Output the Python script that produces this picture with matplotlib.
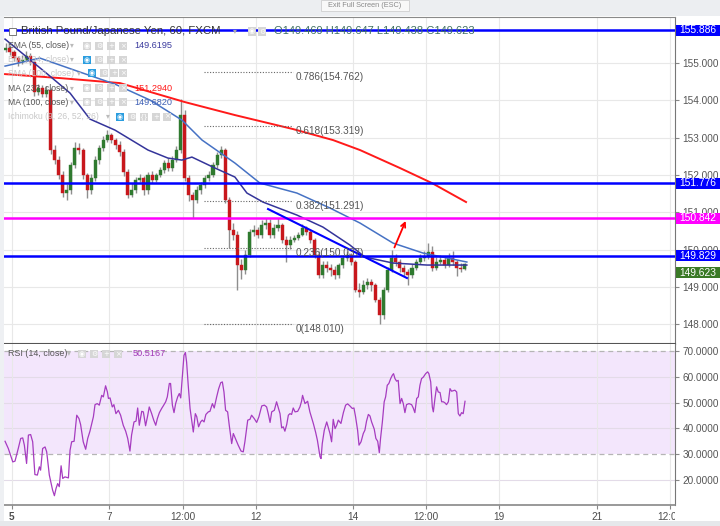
import numpy as np
import matplotlib
matplotlib.use('Agg')
import matplotlib.pyplot as plt
from matplotlib.patches import Rectangle
from matplotlib.ticker import FormatStrFormatter
from matplotlib.transforms import blended_transform_factory, Bbox, TransformedBbox

plt.rcParams['font.family'] = ['Liberation Sans', 'DejaVu Sans']

W, H = 720, 526

# ---- GBP/JPY 2-hour candles ----
opens = [155.350, 155.402, 155.295, 155.134, 155.027, 155.080, 155.188, 155.027, 154.223, 154.330,
         154.169, 154.276, 152.668, 152.399, 151.997, 151.515, 151.595, 152.265, 152.721, 152.668,
         151.997, 151.595, 151.917, 152.399, 152.721, 152.936, 153.070, 152.936, 152.802, 152.614,
         152.078, 151.461, 151.595, 151.863, 151.917, 151.595, 151.997, 151.863, 151.997, 152.131,
         152.319, 152.185, 152.399, 152.668, 153.606, 151.917, 151.461, 151.327, 151.595, 151.729,
         151.917, 151.997, 152.265, 152.533, 152.668, 151.327, 150.523, 150.389, 149.584, 149.450,
         149.852, 150.469, 150.523, 150.389, 150.657, 150.700, 150.389, 150.576, 150.657, 150.255,
         150.121, 150.255, 150.308, 150.389, 150.576, 150.469, 150.255, 149.852, 149.316, 149.584,
         149.504, 149.450, 149.316, 149.584, 149.772, 149.852, 149.665, 148.914, 148.860, 149.048,
         149.128, 149.048, 148.646, 148.244, 148.914, 149.450, 149.772, 149.665, 149.504, 149.397,
         149.316, 149.504, 149.665, 149.772, 149.799, 149.933, 149.504, 149.665, 149.718, 149.584,
         149.772, 149.665, 149.504, 149.469]
closes = [155.402, 155.295, 155.134, 155.027, 155.080, 155.188, 155.027, 154.223, 154.330, 154.169,
          154.276, 152.668, 152.399, 151.997, 151.515, 151.595, 152.265, 152.721, 152.668, 151.997,
          151.595, 151.917, 152.399, 152.721, 152.936, 153.070, 152.936, 152.802, 152.614, 152.078,
          151.461, 151.595, 151.863, 151.917, 151.595, 151.997, 151.863, 151.997, 152.131, 152.319,
          152.185, 152.399, 152.668, 153.606, 151.917, 151.461, 151.327, 151.595, 151.729, 151.917,
          151.997, 152.265, 152.533, 152.668, 151.327, 150.523, 150.389, 149.584, 149.450, 149.852,
          150.469, 150.523, 150.389, 150.657, 150.700, 150.389, 150.576, 150.657, 150.255, 150.121,
          150.255, 150.308, 150.389, 150.576, 150.469, 150.255, 149.852, 149.316, 149.584, 149.504,
          149.450, 149.316, 149.584, 149.772, 149.852, 149.665, 148.914, 148.860, 149.048, 149.128,
          149.048, 148.646, 148.244, 148.914, 149.450, 149.772, 149.665, 149.504, 149.397, 149.316,
          149.504, 149.665, 149.772, 149.799, 149.933, 149.504, 149.665, 149.718, 149.584, 149.772,
          149.665, 149.504, 149.469, 149.623]
highs = [155.55, 155.48, 155.36, 155.20, 155.22, 155.33, 155.26, 155.08, 154.45, 154.40,
         154.38, 154.32, 152.80, 152.50, 152.10, 151.75, 152.35, 152.88, 152.85, 152.72,
         152.05, 152.02, 152.50, 152.80, 153.05, 153.20, 153.12, 153.00, 152.90, 152.70,
         152.15, 151.78, 151.95, 152.02, 151.98, 152.08, 152.10, 152.05, 152.22, 152.40,
         152.45, 152.50, 152.78, 154.03, 153.75, 152.00, 151.55, 151.70, 151.82, 152.00,
         152.10, 152.35, 152.62, 152.78, 152.72, 151.40, 150.70, 150.50, 149.75, 150.00,
         150.55, 150.65, 150.60, 150.78, 150.85, 150.82, 150.68, 150.85, 150.70, 150.35,
         150.35, 150.40, 150.48, 150.68, 150.62, 150.52, 150.30, 149.95, 149.68, 149.68,
         149.62, 149.55, 149.65, 149.85, 149.95, 149.92, 149.72, 149.10, 149.18, 149.25,
         149.22, 149.10, 148.72, 149.00, 149.52, 149.99, 149.88, 149.75, 149.58, 149.48,
         149.60, 149.75, 149.88, 149.95, 150.17, 150.10, 149.80, 149.85, 149.80, 149.90,
         149.95, 149.72, 149.65, 149.647]
lows = [155.30, 155.22, 155.05, 154.92, 154.98, 155.02, 154.95, 154.12, 154.15, 154.08,
        154.10, 152.55, 152.30, 151.90, 151.40, 151.32, 151.50, 152.20, 152.55, 151.90,
        151.38, 151.50, 151.85, 152.30, 152.65, 152.88, 152.85, 152.70, 152.52, 151.98,
        151.38, 151.40, 151.52, 151.80, 151.45, 151.50, 151.78, 151.80, 151.95, 152.05,
        152.10, 152.10, 152.35, 152.60, 151.85, 151.30, 150.85, 151.25, 151.50, 151.65,
        151.85, 151.95, 152.20, 152.45, 151.25, 150.04, 150.25, 148.91, 149.20, 149.35,
        149.80, 150.35, 150.30, 150.30, 150.55, 150.30, 150.32, 150.50, 150.18, 149.66,
        150.02, 150.20, 150.25, 150.35, 150.40, 150.18, 149.78, 149.25, 149.25, 149.40,
        149.30, 149.20, 149.25, 149.50, 149.70, 149.58, 148.85, 148.72, 148.80, 148.95,
        148.90, 148.58, 148.01, 148.15, 148.85, 149.40, 149.55, 149.40, 149.30, 149.05,
        149.25, 149.45, 149.60, 149.70, 149.75, 149.42, 149.45, 149.60, 149.50, 149.52,
        149.58, 149.30, 149.40, 149.438]

# moving averages (hours since the first bar, price)
ma233_hours = [-1.4, 25.7, 55.2, 87.2, 111.8, 140.4, 160.1, 173.4, 193.1, 208.8, 225.6]
ma233_vals = [154.705, 154.598, 154.464, 153.954, 153.606, 153.231, 152.936, 152.668, 152.185, 151.783, 151.274]
ma100_hours = [-1.4, 15.8, 35.5, 52.7, 70.0, 85.7, 95.6, 111.8, 124.1, 142.3, 158.6, 173.4, 189.6, 204.4, 226.0]
ma100_vals = [154.920, 155.134, 154.759, 154.437, 154.008, 153.472, 152.936, 152.319, 151.783, 151.515,
              151.113, 150.710, 150.174, 149.906, 149.665]
ema55_hours = [-1.4, 20.7, 30.6, 40.4, 52.7, 69.0, 78.8, 85.7, 90.6, 102.0, 111.8, 117.7, 125.6, 142.3,
               155.1, 168.4, 175.8, 189.6, 206.4, 226.0]
ema55_vals = [155.643, 154.651, 154.196, 153.499, 153.204, 152.668, 152.453, 152.399, 152.480, 152.185,
              151.944, 151.515, 151.273, 150.925, 150.603, 150.121, 149.799, 149.638, 149.584, 149.584]

# horizontal levels and their axis labels
level_prices = [155.886, 151.776, 150.842, 149.829]
level_colors = ['#0000ff', '#0000ff', '#ff00ff', '#0000ff']
last_price = 149.623

# fibonacci retracement
fib_ratios = ['0.786', '0.618', '0.382', '0.236', '0']
fib_prices = [154.762, 153.319, 151.291, 150.037, 148.010]
fib_span = [96.5, 140.4]

trend_hours = [128.1, 196.5]
trend_prices = [151.086, 149.236]
arrow_hours = [189.8, 196.4]
arrow_prices = [149.987, 150.836]

# RSI (14) turning points
rsi_hours = [-1.4, 0.2, 2.4, 3.5, 5.1, 6.3, 7.3, 8.1, 9.2, 10.1, 11.2, 12.2, 13.3, 14.5, 15.5, 16.1,
             17.1, 18.3, 19.1, 20.4, 22.0, 22.9, 23.7, 24.5, 25.3, 26.2, 27.0, 28.1, 29.8, 30.6, 31.4,
             32.6, 33.9, 35.0, 35.8, 37.1, 38.3, 39.3, 40.4, 41.3, 42.1, 42.9, 44.0, 45.0, 46.2, 47.0,
             48.1, 49.0, 49.5, 50.3, 51.4, 52.2, 53.2, 54.4, 55.5, 56.8, 58.0, 59.0, 60.1, 60.9, 62.1,
             63.1, 63.9, 64.7, 65.9, 66.7, 67.8, 68.8, 69.6, 70.8, 71.8, 72.8, 73.6, 74.6, 75.7, 76.5,
             77.7, 78.5, 79.5, 80.1, 81.0, 81.8, 82.6, 83.6, 84.4, 85.1, 86.1, 86.7, 87.4, 88.0, 88.8,
             89.7, 90.5, 91.3, 92.3, 93.0, 93.9, 94.9, 95.7, 96.6, 97.5, 98.7, 99.5, 100.7, 101.6, 102.8,
             103.8, 104.8, 105.6, 106.4, 107.2, 108.2, 109.0, 110.2, 111.0, 113.4, 114.8, 115.9, 116.7,
             118.1, 119.2, 120.0, 121.3, 122.5, 123.6, 125.0, 126.3, 127.4, 128.2, 129.1, 129.9, 131.2,
             132.3, 133.2, 134.0, 134.8, 135.6, 136.4, 137.3, 138.1, 138.9, 139.7, 140.5, 141.4, 142.7,
             143.8, 144.6, 145.1, 146.3, 147.6, 148.7, 150.4, 151.5, 152.4, 153.7, 154.2, 154.8, 155.8,
             157.0, 157.8, 158.6, 159.4, 160.2, 161.1, 161.9, 162.7, 164.0, 165.2, 166.3, 167.3, 168.4,
             169.6, 170.4, 171.2, 172.2, 172.9, 173.9, 175.0, 175.8, 176.6, 177.5, 178.3, 179.1, 180.4,
             181.2, 182.1, 182.9, 183.5, 184.4, 185.3, 186.0, 186.8, 187.6, 188.5, 189.3, 189.9, 190.6,
             191.4, 192.2, 193.1, 193.9, 194.7, 195.5, 196.3, 197.5, 198.8, 199.6, 200.4, 201.3, 202.1,
             202.9, 203.7, 204.6, 205.7, 206.7, 207.3, 208.2, 209.0, 209.5, 210.3, 211.1, 211.9, 212.8,
             213.6, 214.4, 215.2, 216.0, 216.9, 217.7, 218.5, 220.1, 221.0, 221.8, 222.6, 223.4, 224.2,
             225.1]
rsi_values = [35.0, 32.2, 27.0, 27.3, 32.2, 36.1, 36.3, 33.5, 26.4, 37.4, 37.6, 34.8, 22.1, 21.9, 25.1, 23.8,
              32.2, 32.8, 30.9, 21.9, 16.1, 13.9, 16.7, 18.6, 17.4, 25.5, 20.6, 21.2, 20.8, 31.5, 34.8,
              35.0, 45.1, 43.8, 41.5, 34.8, 31.9, 36.1, 38.9, 41.9, 44.5, 49.2, 49.6, 49.0, 52.8, 52.2,
              56.5, 54.1, 51.6, 51.8, 48.3, 49.2, 45.7, 47.0, 45.1, 41.2, 38.9, 36.1, 31.2, 37.4, 42.5,
              42.8, 47.9, 41.2, 46.6, 46.4, 41.0, 44.8, 48.3, 45.7, 43.2, 41.2, 43.8, 46.1, 47.7, 48.7,
              50.3, 52.2, 57.4, 57.4, 49.0, 46.1, 49.6, 52.2, 53.5, 51.8, 61.9, 68.3, 69.4, 65.7, 56.7,
              47.7, 43.2, 38.6, 45.7, 44.5, 40.6, 42.5, 43.2, 42.5, 45.4, 46.4, 46.6, 49.6, 47.9, 52.2,
              55.4, 57.7, 58.0, 54.1, 47.0, 46.4, 41.2, 34.1, 38.0, 33.5, 31.2, 30.9, 34.8,
              43.2, 43.5, 45.1, 43.8, 42.3, 44.5, 48.7, 49.0, 48.3, 45.7, 42.3, 46.4, 47.0,
              50.3, 47.9, 45.7, 40.2, 40.6, 38.9, 41.5, 45.1, 45.7, 45.4, 47.9, 46.4, 46.6,
              48.3, 50.5, 52.8, 49.6, 50.5, 46.4, 41.9, 38.6, 35.4, 29.0, 28.3, 34.1, 39.3,
              42.5, 40.2, 38.0, 34.8, 43.5, 39.9, 41.2, 43.2, 41.9, 46.1, 49.0, 49.5, 48.7,
              47.7, 47.9, 44.5, 39.3, 33.5, 34.8, 38.0, 39.3, 42.8, 45.4, 44.8, 42.5, 39.7,
              36.1, 35.0, 30.6, 36.1, 42.5, 50.3, 52.2, 56.7, 57.4, 59.3, 60.6, 61.2, 59.3,
              58.3, 58.6, 49.6, 51.6, 49.6, 46.1, 49.2, 49.6, 49.2, 47.9, 46.1, 51.6, 52.2,
              56.7, 59.3, 59.9, 61.2, 61.9, 61.2, 58.0, 48.3, 46.4, 51.6, 56.1, 54.1, 53.9,
              50.3, 50.3, 49.9, 49.2, 50.3, 55.4, 54.4, 54.8, 54.1, 45.7, 44.8, 46.1, 45.7,
              50.5]

xtick_hours = [2, 50, 86, 122, 170, 206, 242, 290, 326]
xtick_labels = ['5', '7', '12:00', '12', '14', '12:00', '19', '21', '12:00']


def fx(px):
    return px / W


def fy(py):
    return 1 - py / H


fig = plt.figure(figsize=(W / 100, H / 100), dpi=100, facecolor='white')
ax = fig.add_axes([fx(4), fy(343.5), (675 - 4) / W, (343.5 - 16.5) / H])
ax_rsi = fig.add_axes([fx(4), fy(505), (675 - 4) / W, (505 - 344) / H], sharex=ax)

# ---- price panel ----
o = np.array(opens)
c = np.array(closes)
hi = np.array(highs)
lo = np.array(lows)
t = np.arange(len(c)) * 2 - 1
up = c >= o
green, red = '#2f7a2f', '#c8171c'
ax.vlines(t, lo, hi, color='#8e8e8e', lw=1.0, zorder=3)
ax.bar(t[up], (c - o)[up], bottom=o[up], width=1.5, color=green, edgecolor=green, lw=0.3, zorder=3.2)
ax.bar(t[~up], (o - c)[~up], bottom=c[~up], width=1.5, color=red, edgecolor=red, lw=0.3, zorder=3.2)

ax.plot(ma233_hours, ma233_vals, color='#ff1a1a', lw=1.4, zorder=3.5)
ax.plot(ma100_hours, ma100_vals, color='#4672c4', lw=1.1, zorder=3.5)
ax.plot(ema55_hours, ema55_vals, color='#34349a', lw=1.1, zorder=3.5)

for p, col in zip(level_prices, level_colors):
    ax.axhline(p, color=col, lw=1.8, zorder=4)

for r, p in zip(fib_ratios, fib_prices):
    ax.plot(fib_span, [p, p], color='#666666', lw=0.8, ls=(0, (1, 1.5)), zorder=4)
    ax.annotate(f'{r}({p:.3f})', xy=(fib_span[1], p), xytext=(2.2, -3.6), textcoords='offset points',
                ha='left', va='center', fontsize=7.2, color='#555555', zorder=5)

ax.plot(trend_hours, trend_prices, color='#0000ff', lw=1.5, zorder=4)
ax.annotate('', xy=(arrow_hours[1], arrow_prices[1]), xytext=(arrow_hours[0], arrow_prices[0]),
            arrowprops=dict(arrowstyle='->', color='#ff0000', lw=1.3, mutation_scale=8), zorder=5)

y0, y1 = 147.48, 156.25
ax.set_ylim(y0, y1)
ax.set_xlim(-1.92, 328.5)
ax.yaxis.tick_right()
ax.set_yticks(np.arange(148, 156))
ax.yaxis.set_major_formatter(FormatStrFormatter('%.3f'))
ax.tick_params(axis='y', length=3, pad=2.5, labelsize=7.2, labelcolor='#555555', color='#888888')
ax.tick_params(axis='x', bottom=False, labelbottom=False)
ax.grid(True, color='#e8e8e8', lw=0.8)
ax.set_axisbelow(True)
ax.spines['left'].set_visible(False)
ax.spines['top'].set_color('#8a8a8a')
ax.spines['right'].set_color('#777777')
ax.spines['bottom'].set_color('#555555')
ax.spines['bottom'].set_linewidth(1.5)

# ---- RSI panel ----
ax_rsi.axhspan(30, 70, color='#f3e6fc', lw=0, zorder=0)
for v in [20, 40, 50, 60]:
    ax_rsi.axhline(v, color='#e3dbe8', lw=0.8, zorder=0.5)
for v in [30, 70]:
    ax_rsi.axhline(v, color='#b5b5b5', lw=0.9, ls=(0, (4, 3)), zorder=0.6)
ax_rsi.plot(rsi_hours, rsi_values, color='#a63cc0', lw=0.9, zorder=3)
ax_rsi.set_ylim(10.3, 72.7)
ax_rsi.yaxis.tick_right()
ax_rsi.set_yticks([20, 30, 40, 50, 60, 70])
ax_rsi.yaxis.set_major_formatter(FormatStrFormatter('%.4f'))
ax_rsi.tick_params(axis='y', length=3, pad=2.5, labelsize=7.2, labelcolor='#555555', color='#888888')
ax_rsi.set_xticks(xtick_hours)
ax_rsi.set_xticklabels(xtick_labels)
ax_rsi.tick_params(axis='x', length=3, pad=2, labelsize=7.2, labelcolor='#4d4d4d', color='#888888')
ax_rsi.grid(True, axis='x', color='#e8e8e8', lw=0.8)
ax_rsi.set_axisbelow(True)
ax_rsi.spines['left'].set_visible(False)
ax_rsi.spines['top'].set_visible(False)
ax_rsi.spines['right'].set_color('#777777')
ax_rsi.spines['bottom'].set_color('#888888')
ax_rsi.spines['bottom'].set_linewidth(1.2)
xl = ax_rsi.get_xticklabels()
xl[0].set_fontweight('bold')
clip = TransformedBbox(Bbox([[0, 0], [675 / W, 1]]), fig.transFigure)
for lbl in xl:
    lbl.set_clip_box(clip)
    lbl.set_clip_on(True)

# ---- price labels on the right axis ----
trans = blended_transform_factory(fig.transFigure, ax.transData)
unit = (y1 - y0) / 327.0
label_shift_px = [0, 0, 0, 0, 9]
for p, col, sh in zip(level_prices + [last_price], level_colors + ['#3a7a26'], label_shift_px):
    yc = p - sh * unit
    fig.add_artist(Rectangle((fx(676), yc - 5.5 * unit), 44 / W, 11 * unit, transform=trans,
                             facecolor=col, edgecolor='none', zorder=5))
    fig.text(fx(698), yc, f'{p:.3f}', transform=trans, ha='center', va='center',
             fontsize=7.4, color='white', zorder=6)

# ---- chrome: top bar, left strip, bottom strip, exit button ----
fig.add_artist(Rectangle((0, fy(16)), 1, 16 / H, transform=fig.transFigure, facecolor='#eceef1', edgecolor='none', zorder=0.5))
fig.add_artist(Rectangle((0, 0), 4 / W, fy(16), transform=fig.transFigure, facecolor='#eef0f3', edgecolor='none', zorder=0.5))
fig.add_artist(Rectangle((0, 0), 1, 5 / H, transform=fig.transFigure, facecolor='#e6e8eb', edgecolor='none', zorder=0.5))
fig.add_artist(Rectangle((fx(321), fy(11)), 88 / W, 11 / H, transform=fig.transFigure,
                         facecolor='#f8f8f8', edgecolor='#cfcfcf', lw=0.6, zorder=1))
fig.text(fx(365), fy(5.5), 'Exit Full Screen (ESC)', ha='center', va='center', fontsize=5.3, color='#8a8a8a')


# ---- legend overlay ----
def icon(x0, yc, glyph, fc='#d6d6d6'):
    fig.add_artist(Rectangle((fx(x0), fy(yc + 4)), 8 / W, 8 / H, transform=fig.transFigure,
                             facecolor=fc, edgecolor='none', zorder=5))
    fig.text(fx(x0 + 4), fy(yc), glyph, color='white', fontsize=5, ha='center', va='center',
             family=['DejaVu Sans'], zorder=6)


glyphs = ['◉', '⚙', '+', '×']

# title row
fig.add_artist(Rectangle((fx(9), fy(35)), 7 / W, 7 / H, transform=fig.transFigure,
                         facecolor='white', edgecolor='#777777', lw=0.7, zorder=5))
fig.text(fx(21), fy(31.5), 'British Pound/Japanese Yen, 60, FXCM', ha='left', va='center',
         fontsize=8.2, color='#333333', zorder=6)
fig.text(fx(235), fy(31.5), '▾', ha='center', va='center', fontsize=5.5, color='#aaaaaa', zorder=6)
icon(248, 31.5, '◉')
icon(258, 31.5, '⚙')
fig.text(fx(274), fy(31.5),
         f'O{opens[-1]:.3f} H{highs[-1]:.3f} L{lows[-1]:.3f} C{closes[-1]:.3f}',
         ha='left', va='center', fontsize=8, color='#3f6f63', zorder=6)

# name, row centre, hidden, value, value colour, arrow x, icon x positions
rows = [('EMA (55, close)', 45.8, False, '149.6195', '#3b3b9e', 72, [83, 95, 107, 119]),
        ('EMA (34, close)', 59.8, True, None, None, 72, [83, 95, 107, 119]),
        ('SMA (100, close)', 73.3, True, None, None, 79, [88, 100, 110, 119]),
        ('MA (233, close)', 88.2, False, '151.2940', '#ff1a1a', 72, [83, 95, 107, 119]),
        ('MA (100, close)', 102.2, False, '149.6820', '#3d5fb5', 72, [83, 95, 107, 119])]
for name, yc, hidden, val, vcol, ax_x, icon_x in rows:
    fig.text(fx(8), fy(yc), name, ha='left', va='center', fontsize=6.2,
             color='#c8c8c8' if hidden else '#555555', zorder=6)
    fig.text(fx(ax_x), fy(yc), '▾', ha='center', va='center', fontsize=5.5, color='#bbbbbb', zorder=6)
    for k, x0 in enumerate(icon_x):
        icon(x0, yc, glyphs[k], '#2a9ddf' if (hidden and k == 0) else '#d6d6d6')
    if val:
        fig.text(fx(134), fy(yc), val, ha='left', va='center', fontsize=6.6, color=vcol, zorder=6)

fig.text(fx(8), fy(116.7), 'Ichimoku (9, 26, 52, 26)', ha='left', va='center', fontsize=6.2,
         color='#c8c8c8', zorder=6)
fig.text(fx(108), fy(116.7), '▾', ha='center', va='center', fontsize=5.5, color='#bbbbbb', zorder=6)
icon(116, 116.7, '◉', '#2a9ddf')
for x0, g in zip([128, 140, 152, 163], ['⚙', '{}', '+', '×']):
    icon(x0, 116.7, g)

# RSI legend
fig.text(fx(8), fy(354), 'RSI (14, close)', ha='left', va='center', fontsize=6.4, color='#555555', zorder=6)
fig.text(fx(69), fy(354), '▾', ha='center', va='center', fontsize=5.5, color='#bbbbbb', zorder=6)
for k, x0 in enumerate([78, 90, 102, 114]):
    icon(x0, 354, glyphs[k])
fig.text(fx(133), fy(354), '50.5167', ha='left', va='center', fontsize=6.6,
         color='#a33ab8', zorder=6)

fig.savefig('out.png', dpi=100)
